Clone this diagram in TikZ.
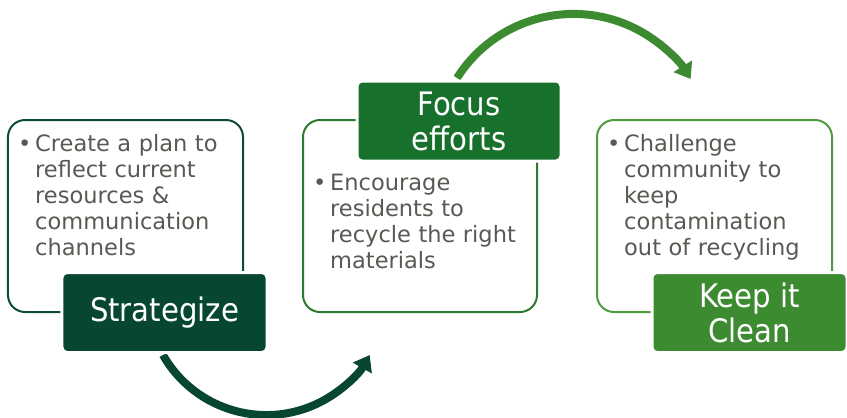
\documentclass[tikz,border=0pt]{standalone}
\usepackage{fontspec}
\setmainfont{DejaVu Sans}
\newfontfamily\labfont[FakeStretch=0.9]{DejaVu Sans}
\newfontfamily\bodyfont{DejaVu Sans}
\usetikzlibrary{arrows.meta}
\definecolor{gA}{HTML}{07472F}
\definecolor{gB}{HTML}{17702C}
\definecolor{gC}{HTML}{3D8B31}
\definecolor{bA}{HTML}{0E4B34}
\definecolor{bB}{HTML}{2B7B2E}
\definecolor{bC}{HTML}{4E9A3C}
\definecolor{txt}{HTML}{595954}
\tikzset{
  outerbox/.style={rectangle, rounded corners=17bp, line width=2bp, fill=white,
    minimum height=192bp, inner sep=0pt},
  labbox/.style={rectangle, rounded corners=5bp, draw=white, line width=3bp,
    text=white, font=\labfont\fontsize{32.5}{35}\selectfont, align=center,
    minimum height=80bp, inner sep=0pt},
  bodytext/.style={anchor=base west, inner sep=0pt, text width=225bp, align=left,
    text=txt, font=\bodyfont\fontsize{22.6}{26.3}\selectfont},
  curvearrow/.style={line width=8bp, -{Triangle[width=21bp,length=15bp]}}
}
\newcommand{\bul}{\leftskip=17bp\relax\noindent\llap{\makebox[17bp][l]{\textbullet}}}
\begin{document}
\begin{tikzpicture}[x=1bp,y=-1bp]
\useasboundingbox (0,0) rectangle (847,417);
% outer boxes
\node[outerbox, draw=bA, minimum width=235bp] (b1) at (125.5,216) {};
\node[outerbox, draw=bB, minimum width=234bp] (b2) at (420,216) {};
\node[outerbox, draw=bC, minimum width=235bp] (b3) at (714.5,216) {};
% arrows
\coordinate (a1s) at (163,355);
\coordinate (a1e) at (370,355);
\coordinate (a2s) at (457,78);
\coordinate (a2e) at (690,80);
\draw[curvearrow, draw=gA] (a1s) arc[start angle=150.3, end angle=29.7, radius=119];
\draw[curvearrow, draw=gC] (a2s) arc[start angle=212.4, end angle=328.1, radius=138];
% labels
\node[labbox, fill=gA, minimum width=205bp] (l1) at (164.5,312.5) {Strategize};
\node[labbox, fill=gB, minimum width=204bp] (l2) at (459,121) {Focus\\efforts};
\node[labbox, fill=gC, minimum width=195bp] (l3) at (749.5,312.5) {Keep it\\Clean};
% texts
\node[bodytext] (t1) at (18,151) {\bul Create a plan to\\reflect current\\resources \&\\communication\\channels\par};
\node[bodytext] (t2) at (313,190) {\bul Encourage\\residents to\\recycle the right\\materials\par};
\node[bodytext] (t3) at (607,151) {\bul Challenge\\community to\\keep\\contamination\\out of recycling\par};
\end{tikzpicture}
\end{document}
